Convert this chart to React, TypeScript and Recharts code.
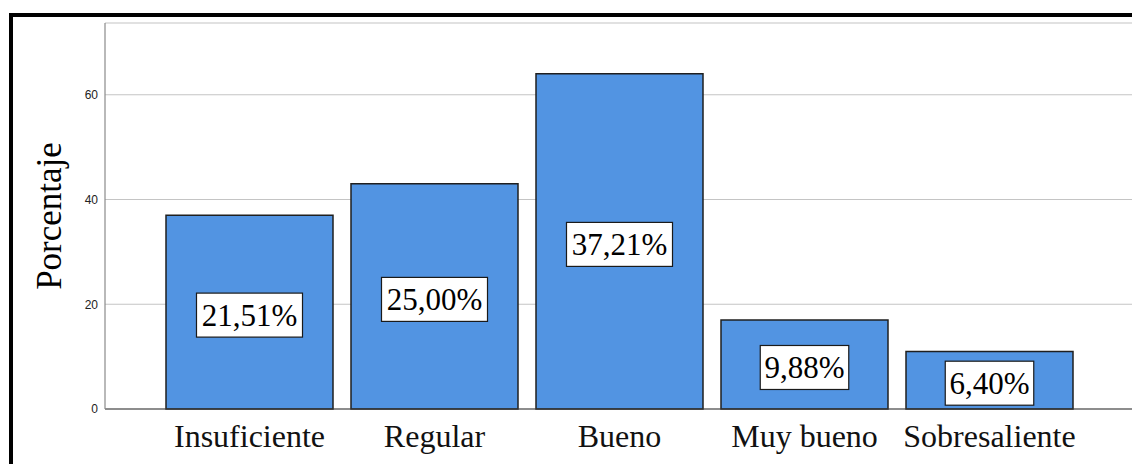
import { Bar, BarChart, CartesianGrid, LabelList, XAxis, YAxis } from 'recharts'

const categories = ['Insuficiente', 'Regular', 'Bueno', 'Muy bueno', 'Sobresaliente']
const counts = [37, 43, 64, 17, 11]
const percentLabels = ['21,51%', '25,00%', '37,21%', '9,88%', '6,40%']
const yTicks = [0, 20, 40, 60]

const data = categories.map((name, i) => ({
	name,
	value: counts[i],
	pct: percentLabels[i],
}))

const serif = '"Liberation Serif", "Times New Roman", serif'
const sans = '"Liberation Sans", Arial, sans-serif'

const PercentBox = (props: any) => {
	const { x, y, width, height, index } = props
	const label = percentLabels[index]
	const cx = x + width / 2
	const cy = y + height / 2 + 3
	const w = label.length * 17.5 + 1
	const h = 44
	return (
		<g>
			<rect
				x={cx - w / 2}
				y={cy - h / 2}
				width={w}
				height={h}
				fill='#ffffff'
				stroke='#1a1a1a'
				strokeWidth={1.2}
			/>
			<text
				x={cx}
				y={cy + 11}
				textAnchor='middle'
				fontFamily={serif}
				fontSize={31}
				fill='#000'
			>
				{label}
			</text>
		</g>
	)
}

const YTitle = (props: any) => {
	const { viewBox } = props
	const cy = viewBox.y + viewBox.height / 2
	return (
		<text
			x={49}
			y={cy}
			transform={`rotate(-90, 49, ${cy})`}
			textAnchor='middle'
			dominantBaseline='central'
			fontFamily={serif}
			fontSize={35}
			fill='#000'
		>
			Porcentaje
		</text>
	)
}

export default function App() {
	return (
		<div
			style={{
				position: 'absolute',
				left: 0,
				top: 0,
				width: 1132,
				height: 464,
				overflow: 'hidden',
				background: '#fff',
			}}
		>
			<div
				style={{
					position: 'absolute',
					left: 9,
					top: 13,
					width: 1200,
					height: 500,
					border: '4px solid #000',
				}}
			/>
			<div style={{ position: 'absolute', left: 0, top: 0 }}>
				<BarChart
					width={1132}
					height={464}
					data={data}
					margin={{ top: 23, right: 0, bottom: 0, left: 0 }}
				>
					<CartesianGrid vertical={false} stroke='#c4c4c4' strokeWidth={1.2} />
					<XAxis
						dataKey='name'
						height={55}
						padding={{ left: 52, right: 50 }}
						axisLine={{ stroke: '#3a3a3a', strokeWidth: 1.2 }}
						tickLine={false}
						tickMargin={9}
						interval={0}
						tick={{ fontFamily: serif, fontSize: 32, fill: '#111' }}
					/>
					<YAxis
						width={105}
						domain={[0, 73.7]}
						ticks={yTicks}
						axisLine={{ stroke: '#8a8a8a', strokeWidth: 1.2 }}
						tickLine={false}
						tickMargin={1}
						tick={{ fontFamily: sans, fontSize: 12, fill: '#222' }}
						label={<YTitle />}
					/>
					<Bar
						dataKey='value'
						fill='#5294e2'
						stroke='#1f1f1f'
						strokeWidth={1.5}
						barSize={167}
						isAnimationActive={false}
					>
						<LabelList dataKey='pct' content={<PercentBox />} />
					</Bar>
				</BarChart>
			</div>
		</div>
	)
}
